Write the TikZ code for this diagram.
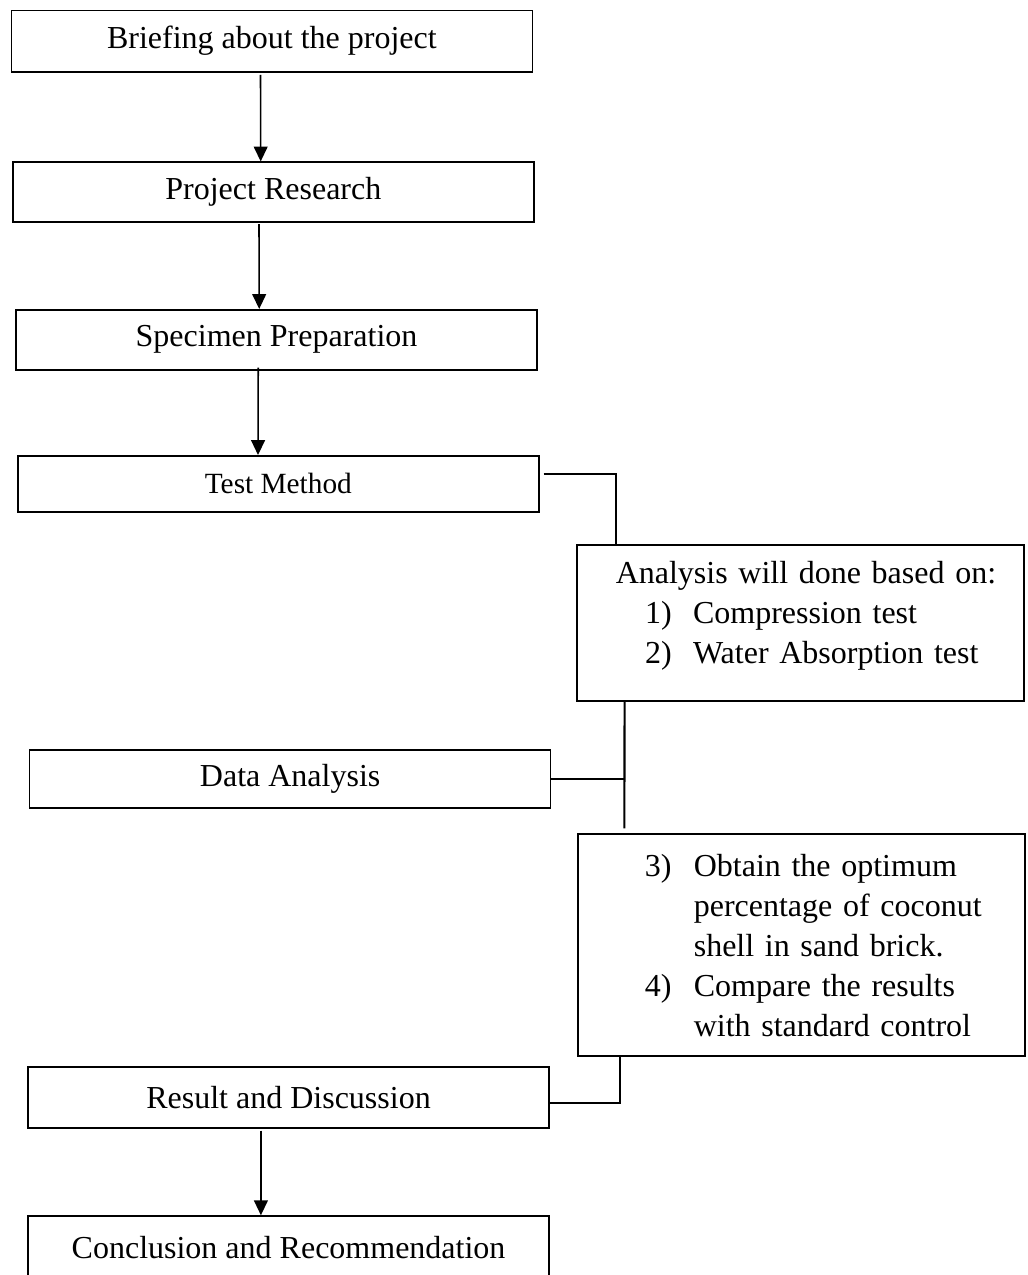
\documentclass[tikz,border=0pt]{standalone}
\usepackage{fontspec}
\setmainfont{Liberation Serif}
\usetikzlibrary{arrows.meta, calc}
\tikzset{
    my-step/.style={
        draw, line width=0.6pt, minimum width=195.4pt, minimum height=22.5pt, inner sep=0pt,
        font=\fontsize{12pt}{15pt}\selectfont
    },
    my-note/.style={
        my-step, minimum width=167.8pt, text width=167.8pt, align=left
    },
    my-arrow/.style={
        line width=0.6pt, -{Triangle[length=5.6pt, width=5.2pt]}
    },
    my-link/.style={
        line width=0.8pt
    },
}

\begin{document}
\begin{tikzpicture}[x=0.375pt, y=-0.375pt]

        \useasboundingbox (0,0) rectangle (1027,1275);

        % MAIN STEPS ----------------------------------------------------------------------------------

        \node[my-step, minimum height=23.1pt] (BRIEF)      at (271.85, 41.15)            {Briefing about the project};
        \node[my-step]                        (RESEARCH)   at ($(BRIEF) + (1.5, 151.1)$)  {Project Research};
        \node[my-step]                        (SPECIMEN)   at ($(RESEARCH) + (3.2, 147.5)$) {Specimen Preparation};
        \node[my-step, minimum height=21.1pt,
              font=\fontsize{11pt}{13.5pt}\selectfont] (TESTMETHOD) at ($(SPECIMEN) + (1.8, 144.2)$) {Test Method};

        % ANALYSIS BOXES ------------------------------------------------------------------------------

        \node[my-note, minimum height=58.5pt] (ANALYSIS) at ($(TESTMETHOD) + (522.2, 139.2)$) {%
            \hspace*{14.6pt}Analysis will done based on:\\
            \hspace*{25.6pt}\makebox[18pt][l]{1)}Compression test\\
            \hspace*{25.6pt}\makebox[18pt][l]{2)}Water Absorption test\rule[-7.8pt]{0pt}{1pt}};

        \node[my-step, minimum height=21.75pt] (DATA) at ($(TESTMETHOD) + (11.8, 295.2)$) {Data Analysis};

        \node[my-note, minimum height=83.1pt] (OBJECTIVES) at ($(ANALYSIS) + (1, 321.9)$) {%
            \hspace*{25.1pt}\makebox[18.4pt][l]{3)}Obtain the optimum\\
            \hspace*{43.5pt}percentage of coconut\\
            \hspace*{43.5pt}shell in sand brick.\\
            \hspace*{25.1pt}\makebox[18.4pt][l]{4)}Compare the results\\
            \hspace*{43.5pt}with standard control};

        % LAST STEPS ----------------------------------------------------------------------------------

        \node[my-step, minimum height=22.8pt]  (RESULT)     at ($(DATA) + (-1.6, 318.3)$)  {Result and Discussion};
        \node[my-step, minimum height=23.25pt] (CONCLUSION) at ($(RESULT) + (0, 149.6)$)   {Conclusion and Recommendation};

        % ARROWS
        \draw[my-arrow] ($(BRIEF.south west) + (250, 2)$)    -- ($(RESEARCH.north west) + (248.7, 0)$);
        \draw[my-arrow] ($(RESEARCH.south west) + (247, 1)$) -- ($(SPECIMEN.north west) + (244, 0)$);
        \draw[my-arrow] ($(SPECIMEN.south west) + (243, -3)$) -- ($(TESTMETHOD.north west) + (241, 0)$);
        \draw[my-arrow] ($(RESULT.south west) + (233.7, 2)$) -- ($(CONCLUSION.north west) + (233.7, 0)$);

        % LINKS TO THE ANALYSIS BOXES
        \draw[my-link] ($(TESTMETHOD.east) + (4, -10)$) -| ($(ANALYSIS.north west) + (40, 0)$);

        \coordinate (LINKTOP)    at ($(ANALYSIS.south west) + (48.6, 0)$);
        \coordinate (LINKBOTTOM) at ($(OBJECTIVES.north west) + (47.3, -5)$);
        \draw[my-link] (LINKTOP) -- (LINKBOTTOM);
        \draw[my-link] (DATA.east) -- (DATA.east -| LINKTOP);

        \draw[my-link] ($(OBJECTIVES.south west) + (43.3, 0)$) |- ($(RESULT.east) + (0, 5.6)$);

    \end{tikzpicture}
\end{document}
